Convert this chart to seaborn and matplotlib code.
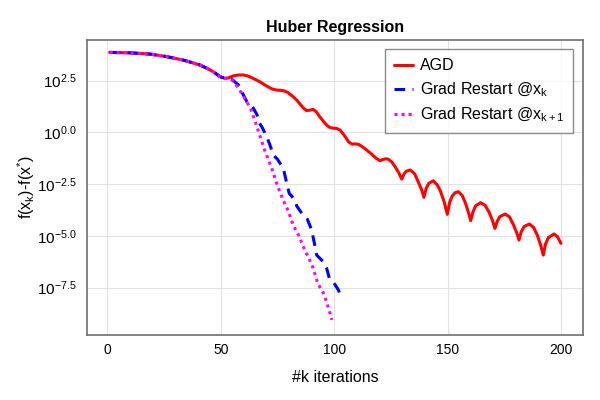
import numpy as np
import pandas as pd
import matplotlib
matplotlib.use('Agg')
import matplotlib.pyplot as plt
import seaborn as sns

# values (y stored as log10 of f(x_k)-f(x*))
head_x = [1, 10, 18.8, 26, 33.5, 37, 40.9, 44, 46.7, 49.7, 51.5]
head_lv = [3.86, 3.84, 3.78, 3.66, 3.49, 3.38, 3.25, 3.09, 2.93, 2.69, 2.62]

agd_x = [52.5, 54, 56, 58, 60, 62, 64, 67.3, 70, 72.5, 74.7, 76.5, 78, 79.5, 81.5,
         83.5, 85, 86.5, 87.9, 89.3, 90.8, 92.2, 93.6, 95.5, 97, 98.2, 99.7, 101.1,
         102.6, 104.5, 106.3, 107.8, 109.3, 110.7, 112.5, 114.4, 116.5, 118.5, 120.2,
         121.3, 122.7, 123.9, 125.4, 126.9, 128.5, 129.8, 130.8, 131.8, 133.5, 135.5,
         136.7, 138.5, 139.6, 140.6, 141.7, 143.7, 145.5, 146.7, 148.5, 149.9, 150.9,
         152, 153.3, 154.8, 156.5, 158, 159.3, 160.2, 161.2, 162.4, 164.6, 166.5,
         168.3, 169.8, 170.9, 171.9, 173.1, 175.4, 177.3, 179, 180.5, 181.5, 182.5,
         183.8, 186.1, 188, 189.7, 191.2, 192.2, 193.2, 194.5, 197, 198.5, 200]
agd_lv = [2.60, 2.66, 2.74, 2.77, 2.77, 2.72, 2.62, 2.44, 2.25, 2.1, 2.04, 2.03, 2.0, 1.93,
          1.76, 1.56, 1.36, 1.17, 1.05, 1.07, 1.11, 0.98, 0.76, 0.5, 0.32, 0.23, 0.2, 0.19,
          0.11, -0.15, -0.45, -0.57, -0.56, -0.58, -0.7, -0.86, -1.05, -1.25, -1.37,
          -1.32, -1.28, -1.30, -1.43, -1.66, -1.95, -2.26, -2.02, -1.88, -1.82, -2.0,
          -2.3, -2.75, -3.14, -2.7, -2.47, -2.34, -2.55, -2.79, -3.35, -3.96, -3.4,
          -3.08, -2.92, -2.87, -3.05, -3.45, -3.9, -4.27, -3.85, -3.55, -3.40, -3.52,
          -3.85, -4.25, -4.64, -4.3, -4.07, -3.95, -4.08, -4.45, -4.85, -5.20, -4.8,
          -4.55, -4.43, -4.6, -5.0, -5.5, -5.93, -5.4, -5.08, -4.91, -5.05, -5.36]

gr_x = [53, 55, 57.8, 60, 61.5, 64.4, 66, 67, 68.2, 70.3, 71.7, 73.2, 75, 77.6, 79.1,
        80.2, 82.8, 83.5, 86, 88.2, 90.1, 91.6, 92.3, 95.2, 96.7, 97.9, 99.6, 101.9, 103.3]
gr_lv = [2.6, 2.55, 2.29, 1.80, 1.48, 1.16, 0.85, 0.45, 0.25, -0.21, -0.61, -1.10, -1.30,
         -1.74, -2.46, -2.95, -3.27, -3.56, -3.95, -4.2, -4.72, -5.53, -5.93, -6.25,
         -6.57, -7.05, -7.22, -7.62, -8.02]

gr1_x = [53, 55, 56.3, 59.3, 61.5, 63.4, 65.4, 66.6, 69.5, 72.5, 75, 77.6, 79.8, 82,
         84.2, 87.2, 89.1, 90.6, 92.8, 95.2, 96.4, 98.5, 99]
gr1_lv = [2.6, 2.52, 2.37, 1.88, 1.48, 1.08, 0.45, 0.05, -0.9, -1.74, -2.57, -3.3, -3.8,
          -4.5, -4.95, -5.72, -6.14, -6.52, -7.3, -7.75, -8.1, -8.85, -9.06]

ytick_lv = [-7.5, -5.0, -2.5, 0.0, 2.5]
xticks = [0, 50, 100, 150, 200]

labels = ['AGD', 'Grad Restart @x$_\\mathregular{k}$', 'Grad Restart @x$_\\mathregular{k+1}$']

sns.set_theme(style='white')
plt.rcParams['font.family'] = ['Liberation Sans', 'DejaVu Sans']
plt.rcParams['mathtext.fontset'] = 'custom'
plt.rcParams['mathtext.rm'] = 'Liberation Sans'
plt.rcParams['text.color'] = 'black'
plt.rcParams['axes.labelcolor'] = 'black'

fig = plt.figure(figsize=(6, 4), dpi=100)
ax = fig.add_axes([0.1445, 0.1625, 0.8278, 0.7375])

series = [
    (head_x + agd_x, head_lv + agd_lv, '#ff0000', '-'),
    (head_x + gr_x, head_lv + gr_lv, '#0000ff', (0, (3.5, 2.4))),
    (head_x + gr1_x, head_lv + gr1_lv, '#ff00ff', (0, (1, 1.3))),
]
for (xs, lvs, c, ls), lab in zip(series, labels):
    df = pd.DataFrame({'k': xs, 'gap': 10 ** np.array(lvs)})
    sns.lineplot(data=df, x='k', y='gap', ax=ax, color=c, linestyle=ls,
                 linewidth=2.2, label=lab, estimator=None, sort=False)
for ln in ax.get_lines():
    ln.set_dash_capstyle('butt')
    ln.set_solid_joinstyle('round')

ax.set_yscale('log')
ax.set_xlim(-9.1, 209.9)
ax.set_ylim(10 ** -9.79, 10 ** 4.46)
ax.set_xticks(xticks)
ax.set_xticklabels([str(v) for v in xticks])
ax.set_yticks([10 ** v for v in ytick_lv])
ax.set_yticklabels(['$\\mathregular{10^{%.1f}}$' % v for v in ytick_lv])
ax.minorticks_off()
ax.grid(True, color='#e2e2e2', linewidth=0.8)
ax.set_axisbelow(True)
for sp in ax.spines.values():
    sp.set_color('#707070')
    sp.set_linewidth(1.2)
ax.tick_params(axis='x', length=4, width=0.8, color='#707070', pad=2, labelsize=10, labelcolor='black')
ax.tick_params(axis='y', length=0, pad=7, labelsize=11, labelcolor='black')

ax.set_title('Huber Regression', fontsize=11.5, fontweight='bold', pad=6, color='black')
ax.set_xlabel('#k iterations', fontsize=11.5, labelpad=9)
ax.set_ylabel('f(x$_\\mathregular{k}$)-f(x$^\\mathregular{*}$)', fontsize=11.5, labelpad=0)

leg = ax.legend(loc='upper right', bbox_to_anchor=(0.980, 0.968), borderaxespad=0,
                fontsize=11.5, fancybox=False, frameon=True, handlelength=1.2,
                handletextpad=0.45, labelspacing=0.45, borderpad=0.55)
leg.get_frame().set_edgecolor('#707070')
leg.get_frame().set_linewidth(1.0)

fig.savefig('out.png', dpi=100)
